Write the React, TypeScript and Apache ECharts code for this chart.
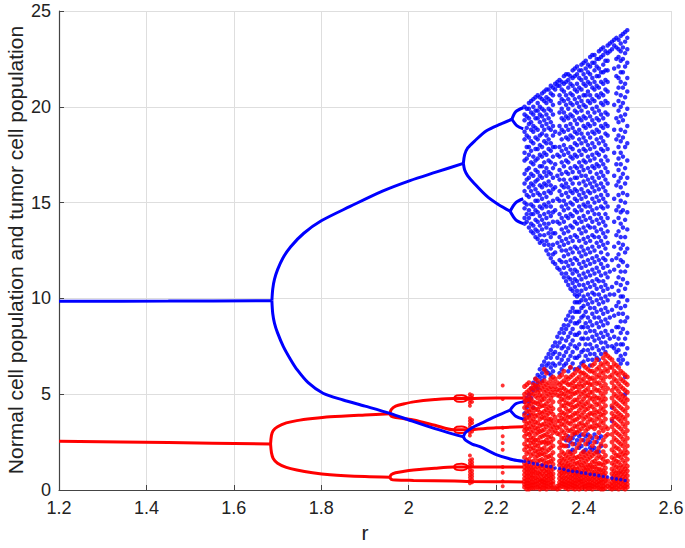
import React, { useEffect, useRef } from "react";
import * as echarts from "echarts";

// ---- Axis ticks and titles ----
const xTicks = { min: 1.2, max: 2.6, step: 0.2 };
const yTicks = { min: 0, max: 25, step: 5 };
const xTitle = "r";
const yTitle = "Normal cell population and tumor cell population";

// ---- Stable / periodic branches (r, population) ----
const normalFixed = [[1.2, 9.85], [1.45, 9.86], [1.687, 9.88]];
const normalUpper = [[1.687, 9.88], [1.689, 10.5], [1.693, 11.0], [1.7, 11.5], [1.712, 12.1], [1.73, 12.7], [1.76, 13.4], [1.8, 14.05], [1.866, 14.8], [1.94, 15.6], [2.003, 16.15], [2.064, 16.6], [2.125, 17.05]];
const normalLower = [[1.687, 9.88], [1.689, 9.2], [1.693, 8.7], [1.7, 8.2], [1.713, 7.5], [1.73, 6.8], [1.744, 6.3], [1.77, 5.6], [1.804, 5.05], [1.85, 4.7], [1.9, 4.38], [1.957, 4.0], [2.01, 3.58], [2.06, 3.2], [2.1, 2.93], [2.125, 2.78]];
const normalUU = [[2.125, 17.05], [2.128, 17.5], [2.135, 17.85], [2.15, 18.2], [2.178, 18.75], [2.21, 19.1], [2.236, 19.35]];
const normalUL = [[2.125, 17.05], [2.128, 16.7], [2.135, 16.4], [2.15, 16.0], [2.178, 15.35], [2.205, 14.9], [2.232, 14.55]];
const normalLU = [[2.125, 2.78], [2.13, 3.0], [2.145, 3.25], [2.163, 3.45], [2.2, 3.85], [2.232, 4.17]];
const normalLL = [[2.125, 2.78], [2.13, 2.6], [2.145, 2.4], [2.163, 2.26], [2.2, 1.85], [2.239, 1.58], [2.262, 1.5]];
const normalSplits = [
  [[2.236, 19.35], [2.245, 19.75], [2.262, 19.95]],
  [[2.236, 19.35], [2.248, 19.0], [2.262, 18.85]],
  [[2.232, 14.55], [2.245, 15.0], [2.262, 15.2]],
  [[2.232, 14.55], [2.245, 14.1], [2.262, 13.9]],
  [[2.232, 4.17], [2.245, 4.5], [2.262, 4.6]],
  [[2.232, 4.17], [2.245, 3.85], [2.262, 3.7]],
];

const tumorFixed = [[1.2, 2.55], [1.45, 2.48], [1.684, 2.4]];
const tumorUpper = [[1.684, 2.4], [1.686, 2.85], [1.69, 3.1], [1.7, 3.3], [1.72, 3.5], [1.744, 3.62], [1.78, 3.73], [1.82, 3.82], [1.9, 3.92], [1.957, 3.98]];
const tumorLower = [[1.684, 2.4], [1.686, 1.95], [1.69, 1.65], [1.7, 1.4], [1.72, 1.18], [1.744, 1.04], [1.78, 0.9], [1.82, 0.8], [1.9, 0.7], [1.957, 0.66]];
const tumorUU = [[1.957, 3.98], [1.96, 4.2], [1.97, 4.38], [1.99, 4.5], [2.011, 4.6], [2.06, 4.72], [2.103, 4.78], [2.136, 4.78], [2.2, 4.8], [2.262, 4.8]];
const tumorUL = [[1.957, 3.98], [1.96, 3.85], [1.97, 3.78], [1.99, 3.72], [2.011, 3.65], [2.06, 3.38], [2.103, 3.14], [2.136, 3.15], [2.2, 3.25], [2.262, 3.3]];
const tumorLU = [[1.957, 0.66], [1.96, 0.8], [1.97, 0.9], [1.99, 0.98], [2.011, 1.04], [2.06, 1.14], [2.103, 1.2], [2.136, 1.2], [2.262, 1.2]];
const tumorLL = [[1.957, 0.66], [1.96, 0.56], [1.97, 0.52], [2.011, 0.5], [2.105, 0.47], [2.14, 0.45], [2.262, 0.42]];
const tumorLoops = [
  [[2.103, 4.78], [2.11, 4.93], [2.121, 4.95], [2.13, 4.9], [2.136, 4.78], [2.13, 4.65], [2.121, 4.6], [2.11, 4.62], [2.103, 4.78]],
  [[2.103, 3.14], [2.11, 3.3], [2.121, 3.32], [2.13, 3.27], [2.136, 3.15], [2.13, 3.02], [2.121, 2.97], [2.11, 2.99], [2.103, 3.14]],
  [[2.103, 1.2], [2.11, 1.35], [2.121, 1.37], [2.13, 1.32], [2.136, 1.2], [2.13, 1.08], [2.121, 1.03], [2.11, 1.05], [2.103, 1.2]],
];

// ---- Transient / scattered tumor points before chaos ----
const tumorStreakR = [2.14, 2.145, 2.215];
const tumorStreak = [
  [5.0, 4.85, 4.7, 4.55, 4.4, 3.75, 3.6, 3.45, 3.3, 3.0, 2.85, 1.8, 1.55, 1.4, 1.25, 1.1, 0.95, 0.8, 0.65, 0.5, 0.35],
  [4.95, 4.8, 4.6, 3.65, 3.5, 3.2, 3.05, 1.6, 1.45, 1.3, 1.0, 0.85, 0.7, 0.55, 0.4],
  [5.45, 4.75, 3.25, 2.8, 2.45, 2.1, 1.2, 0.9, 0.45, 0.2],
];

// ---- Chaotic region: two interleaved sets of r columns ----
const chaosR = [2.265, 2.275, 2.285, 2.295, 2.305, 2.315, 2.325, 2.335, 2.345, 2.355, 2.365, 2.375, 2.385, 2.395, 2.405, 2.415, 2.425, 2.435, 2.445, 2.455, 2.465, 2.475, 2.485, 2.495];
const chaosR2 = [2.27, 2.28, 2.29, 2.3, 2.31, 2.32, 2.33, 2.34, 2.35, 2.36, 2.37, 2.38, 2.39, 2.4, 2.41, 2.42, 2.43, 2.44, 2.45, 2.46, 2.47, 2.48, 2.49, 2.5];

const normalChaos = [
  [20.0, 19.6, 19.3, 18.7, 18.3, 17.6, 17.2, 16.5, 16.0, 15.6, 15.0, 14.7, 14.2, 13.9, 4.6, 4.0, 3.7],
  [20.2, 19.9, 19.4, 19.1, 18.4, 17.9, 17.5, 16.8, 16.3, 15.8, 15.3, 14.6, 14.2, 13.7, 5.0, 4.6, 3.9],
  [20.4, 20.0, 19.6, 19.0, 18.7, 18.1, 17.4, 17.0, 16.4, 15.9, 15.4, 14.8, 14.4, 13.8, 13.4, 5.6, 5.2, 4.3],
  [20.6, 20.2, 19.8, 19.4, 18.8, 18.3, 17.8, 17.3, 16.6, 16.2, 15.5, 15.1, 14.5, 14.0, 13.5, 13.1, 6.0, 5.6, 5.3],
  [20.7, 20.4, 19.9, 19.5, 19.0, 18.6, 17.9, 17.4, 16.9, 16.3, 15.8, 15.2, 14.7, 14.1, 13.6, 13.0, 6.5, 6.1, 5.7],
  [20.9, 20.5, 20.2, 19.6, 19.1, 18.5, 18.1, 17.5, 16.8, 16.4, 15.9, 15.3, 14.8, 14.2, 13.7, 13.0, 12.5, 6.9, 6.5, 6.2],
  [21.1, 20.7, 20.3, 19.8, 19.2, 18.8, 18.1, 17.7, 17.1, 16.5, 15.9, 15.5, 14.8, 14.3, 13.6, 13.2, 12.6, 12.1, 7.3, 6.9, 6.4, 6.0],
  [21.2, 20.9, 18.7, 17.9, 17.0, 15.8, 14.6, 13.4, 12.4, 11.8, 7.7, 7.2, 6.5],
  [21.4, 21.1, 20.6, 20.2, 19.7, 19.0, 18.6, 17.9, 17.4, 16.7, 16.2, 15.6, 15.1, 14.4, 13.9, 13.2, 12.7, 12.0, 11.5, 8.2, 7.7, 7.1, 6.6, 6.1],
  [21.6, 21.2, 20.8, 20.3, 19.7, 19.3, 18.7, 18.0, 17.5, 16.9, 16.2, 15.8, 15.1, 14.6, 14.0, 13.4, 12.8, 12.2, 11.6, 11.1, 8.6, 8.2, 7.5, 7.0, 6.5],
  [21.7, 21.4, 21.0, 20.4, 19.9, 19.4, 18.8, 18.3, 17.6, 17.1, 16.5, 15.8, 15.3, 14.7, 14.2, 13.5, 12.9, 12.3, 11.7, 11.1, 10.7, 9.1, 8.6, 8.0, 7.4, 6.8, 6.2, 2.8, 2.3],
  [21.9, 21.5, 21.1, 20.6, 20.1, 19.5, 18.9, 18.4, 17.8, 17.3, 16.6, 16.0, 15.5, 14.9, 14.3, 13.7, 13.0, 12.4, 11.8, 11.3, 10.8, 10.4, 9.5, 9.0, 8.4, 7.8, 7.2, 6.6, 2.7, 2.1],
  [22.1, 21.7, 21.2, 20.8, 20.2, 19.7, 19.1, 18.6, 18.0, 17.4, 16.8, 16.3, 15.6, 15.1, 14.5, 13.9, 13.2, 12.6, 12.0, 11.4, 10.9, 10.4, 10.1, 9.8, 9.3, 8.7, 8.1, 7.4, 6.9, 2.6],
  [22.2, 21.9, 21.4, 20.9, 20.3, 19.8, 19.3, 18.6, 18.1, 17.5, 16.9, 16.4, 15.7, 15.2, 14.6, 14.0, 13.4, 12.7, 12.2, 11.6, 11.0, 10.4, 9.9, 9.5, 9.0, 8.5, 7.9, 7.2, 6.6, 2.9, 2.3],
  [22.4, 22.0, 21.5, 21.1, 20.6, 20.0, 19.4, 18.9, 18.2, 17.7, 17.1, 16.4, 15.9, 15.3, 14.8, 14.1, 13.5, 12.9, 12.3, 11.7, 11.1, 10.5, 9.9, 9.3, 8.7, 8.2, 7.6, 7.0, 2.8, 2.1],
  [22.6, 22.1, 21.7, 21.2, 20.6, 20.2, 19.5, 19.0, 18.4, 17.8, 17.2, 16.6, 16.0, 15.5, 14.8, 14.2, 13.7, 13.0, 12.4, 11.8, 11.2, 10.6, 10.0, 9.5, 8.8, 8.3, 7.6, 7.1, 6.5, 2.5, 2.2],
  [22.7, 22.3, 21.9, 21.3, 20.9, 20.3, 19.7, 19.1, 18.6, 17.9, 17.3, 16.8, 16.1, 15.6, 15.0, 14.4, 13.7, 13.2, 12.5, 11.9, 11.3, 10.7, 10.2, 9.5, 9.0, 8.3, 7.8, 7.1, 2.9, 2.2],
  [22.9, 22.5, 22.0, 21.6, 21.0, 20.5, 19.8, 19.3, 18.7, 18.1, 17.5, 16.9, 16.3, 15.7, 15.1, 14.4, 13.9, 13.2, 12.7, 12.0, 11.4, 10.9, 10.2, 9.7, 9.0, 8.5, 7.9, 7.3, 6.8, 2.7, 2.0],
  [23.1, 22.7, 22.2, 21.8, 21.2, 20.6, 20.1, 19.4, 18.9, 18.2, 17.7, 17.0, 16.4, 15.8, 15.2, 14.7, 14.0, 13.4, 12.8, 12.1, 11.6, 10.9, 10.4, 9.8, 9.2, 8.6, 8.0, 7.4],
  [23.2, 22.8, 22.4, 21.9, 21.3, 20.8, 20.2, 19.6, 19.0, 18.5, 17.8, 17.2, 16.6, 16.0, 15.4, 14.8, 14.2, 13.5, 12.9, 12.3, 11.7, 11.1, 10.5, 9.9, 9.3, 8.7, 8.1, 7.5],
  [23.4, 23.0, 12.0, 10.6, 9.4, 8.3, 7.5, 4.3, 3.6],
  [23.6, 23.1, 22.5, 21.6, 20.7, 19.4, 18.3, 17.0, 15.9, 14.6, 13.3, 12.1, 10.8, 9.6, 8.5, 7.6, 7.2],
  [23.7, 23.3, 22.9, 22.4, 21.8, 21.3, 20.6, 20.0, 19.5, 18.8, 18.2, 17.6, 17.0, 16.3, 15.8, 15.1, 14.5, 13.9, 13.2, 12.6, 12.0, 11.4, 10.7, 10.1, 9.5, 8.8, 8.2, 7.6, 7.0, 6.6],
  [23.9, 23.4, 22.8, 22.1, 21.2, 20.5, 19.6, 18.7, 17.9, 16.8, 16.0, 15.0, 14.1, 13.2, 12.4, 11.4, 10.5, 9.6, 8.8, 7.9, 7.1, 5.9, 5.0],
];

const normalChaos2 = [
  [19.9, 19.5, 18.9, 18.5, 17.9, 17.3, 16.7, 16.2, 15.4, 14.9, 14.4, 14.0, 4.8, 4.3],
  [20.3, 19.7, 19.2, 18.8, 18.2, 17.7, 17.1, 16.5, 16.0, 15.6, 14.9, 14.4, 13.9, 13.5, 5.3, 4.8],
  [20.5, 19.8, 19.4, 18.9, 18.4, 17.8, 17.2, 16.7, 16.1, 15.7, 15.1, 14.6, 14.1, 13.6, 13.2, 5.8, 5.4],
  [20.5, 20.0, 19.6, 19.2, 18.5, 18.0, 17.5, 16.9, 16.4, 15.9, 15.4, 14.8, 14.3, 13.8, 13.3, 12.9, 6.3, 5.9],
  [20.8, 20.3, 19.8, 19.3, 18.8, 18.2, 17.6, 17.1, 16.6, 16.0, 15.5, 14.9, 14.4, 13.9, 13.3, 12.8, 6.7, 6.3, 5.9],
  [20.9, 20.4, 19.9, 19.4, 18.9, 18.3, 17.8, 17.2, 16.6, 16.1, 15.6, 15.0, 14.5, 13.9, 13.4, 12.8, 12.3, 7.1, 6.6, 6.1],
  [21.0, 20.6, 20.1, 19.6, 19.0, 18.5, 17.9, 17.4, 16.8, 16.3, 15.7, 15.1, 14.5, 14.0, 13.4, 12.8, 12.3, 11.9, 7.5, 7.1, 6.6, 6.2],
  [21.3, 21.1, 17.5, 16.4, 15.2, 14.0, 12.9, 11.6, 8.0, 7.5, 6.9],
  [21.3, 20.9, 20.4, 19.9, 19.4, 18.8, 18.3, 17.7, 17.1, 16.5, 15.9, 15.4, 14.8, 14.2, 13.6, 13.0, 12.5, 11.9, 11.3, 8.4, 7.9, 7.4, 6.8, 6.3],
  [21.7, 21.3, 20.6, 20.1, 19.5, 19.0, 18.4, 17.8, 17.2, 16.6, 16.0, 15.5, 14.9, 14.3, 13.7, 13.1, 12.5, 11.9, 11.3, 10.9, 8.9, 8.4, 7.8, 7.2, 6.6, 2.6],
  [21.6, 21.2, 20.7, 20.2, 19.6, 19.1, 18.5, 17.9, 17.4, 16.8, 16.2, 15.6, 15.0, 14.4, 13.8, 13.2, 12.6, 12.0, 11.5, 11.0, 10.5, 9.3, 8.8, 8.2, 7.6, 7.0, 6.4, 2.5, 2.0],
  [22.0, 21.6, 20.9, 20.4, 19.8, 19.3, 18.7, 18.1, 17.5, 16.9, 16.3, 15.7, 15.2, 14.6, 14.0, 13.3, 12.7, 12.1, 11.5, 11.0, 10.6, 10.2, 9.8, 9.3, 8.7, 8.1, 7.5, 6.9, 6.3, 2.9, 2.4],
  [21.9, 21.5, 21.0, 20.5, 20.0, 19.4, 18.8, 18.3, 17.7, 17.1, 16.6, 16.0, 15.4, 14.8, 14.2, 13.6, 13.0, 12.4, 11.8, 11.2, 10.7, 10.2, 9.8, 9.3, 8.8, 8.2, 7.6, 7.0, 6.4, 2.8, 2.2],
  [22.3, 21.7, 21.2, 20.6, 20.1, 19.5, 19.0, 18.4, 17.8, 17.2, 16.7, 16.1, 15.5, 14.9, 14.3, 13.7, 13.1, 12.5, 11.9, 11.3, 10.7, 10.1, 9.6, 9.1, 8.5, 7.9, 7.3, 6.7, 2.6, 2.0],
  [22.2, 21.8, 21.3, 20.8, 20.3, 19.7, 19.1, 18.6, 18.0, 17.4, 16.8, 16.2, 15.6, 15.0, 14.5, 13.8, 13.2, 12.6, 12.0, 11.4, 10.8, 10.2, 9.7, 9.0, 8.5, 7.9, 7.3, 6.8, 2.9, 2.4],
  [22.7, 22.3, 21.5, 21.0, 20.4, 19.9, 19.3, 18.7, 18.1, 17.5, 16.9, 16.3, 15.8, 15.2, 14.6, 14.0, 13.3, 12.7, 12.1, 11.5, 10.9, 10.3, 9.8, 9.2, 8.6, 8.0, 7.4, 6.8, 2.7, 2.1],
  [22.5, 22.1, 21.6, 21.1, 20.6, 20.0, 19.4, 18.8, 18.3, 17.6, 17.0, 16.5, 15.9, 15.3, 14.7, 14.1, 13.5, 12.9, 12.2, 11.6, 11.0, 10.5, 9.9, 9.3, 8.7, 8.1, 7.5, 6.9, 2.5, 2.0],
  [23.0, 22.6, 21.8, 21.3, 20.7, 20.2, 19.6, 19.0, 18.4, 17.8, 17.2, 16.6, 16.0, 15.4, 14.8, 14.2, 13.6, 13.0, 12.4, 11.8, 11.2, 10.6, 10.0, 9.4, 8.8, 8.2, 7.7, 7.1, 2.8, 2.3],
  [22.9, 22.4, 21.9, 21.4, 20.9, 20.3, 19.7, 19.1, 18.6, 18.0, 17.4, 16.8, 16.2, 15.6, 15.0, 14.4, 13.8, 13.2, 12.6, 12.0, 11.3, 10.7, 10.1, 9.5, 8.9, 8.3, 7.7, 7.2],
  [23.3, 22.9, 11.4, 10.2, 9.0, 7.9],
  [23.5, 23.2, 22.0, 20.1, 18.8, 17.6, 16.4, 15.2, 14.0, 12.7, 11.5, 10.2, 9.1, 8.0, 7.4],
  [23.5, 23.0, 22.6, 22.1, 21.5, 21.0, 20.3, 19.8, 19.2, 18.5, 17.9, 17.3, 16.7, 16.1, 15.4, 14.8, 14.2, 13.5, 12.9, 12.3, 11.7, 11.1, 10.4, 9.8, 9.2, 8.5, 7.9, 7.3, 6.8],
  [23.8, 23.1, 22.5, 21.8, 21.0, 20.2, 19.3, 18.4, 17.4, 16.5, 15.5, 14.6, 13.7, 12.8, 11.9, 11.0, 10.1, 9.2, 8.4, 7.6, 6.8],
  [24.0, 23.6, 23.0, 22.3, 21.5, 20.8, 19.9, 19.0, 18.1, 17.2, 16.3, 15.4, 14.5, 13.6, 12.6, 11.7, 10.8, 9.9, 9.0, 8.2, 7.4, 6.6],
];

const normalEdge = [1.5, 1.45, 1.38, 1.35, 1.3, 1.24, 1.22, 1.15, 1.12, 1.08, 1.02, 0.98, 0.95, 0.9, 0.88, 0.82, 0.8, 0.75, 0.7, 0.68, 0.62, 0.58, 0.55, 0.5];

const tumorChaos = [
  [5.4, 5.0, 4.8, 4.6, 4.3, 3.9, 3.6, 3.3, 3.1, 2.8, 2.4, 2.1, 1.7, 1.4, 1.2, 1.0, 0.8, 0.6, 0.45, 0.3, 0.15],
  [5.6, 5.2, 4.9, 4.7, 4.4, 4.1, 3.8, 3.5, 3.2, 2.9, 2.6, 2.3, 2.0, 1.6, 1.3, 1.1, 0.9, 0.7, 0.5, 0.35, 0.2, 0.05],
  [5.5, 5.3, 5.0, 4.6, 4.3, 4.0, 3.7, 3.4, 3.1, 2.7, 2.5, 2.2, 1.9, 1.5, 1.2, 1.0, 0.8, 0.6, 0.4, 0.25, 0.1],
  [5.7, 5.4, 5.1, 4.8, 4.5, 4.2, 3.9, 3.5, 3.2, 3.0, 2.6, 2.3, 2.0, 1.8, 1.5, 1.2, 0.9, 0.7, 0.5, 0.3, 0.15],
  [5.6, 5.3, 4.9, 4.7, 4.4, 4.0, 3.8, 3.4, 3.1, 2.8, 2.5, 2.1, 1.9, 1.6, 1.3, 1.1, 0.85, 0.6, 0.45, 0.3, 0.1],
  [6.1, 5.5, 5.2, 4.9, 4.5, 4.2, 3.9, 3.6, 3.3, 2.9, 2.6, 2.4, 2.0, 1.7, 1.4, 1.1, 0.9, 0.7, 0.5, 0.35, 0.2, 0.05],
  [5.8, 5.4, 5.1, 4.8, 4.4, 4.1, 3.7, 3.5, 3.2, 2.8, 2.5, 2.2, 1.8, 1.5, 1.2, 1.0, 0.8, 0.6, 0.4, 0.25, 0.1],
  [5.8, 5.4, 5.1, 3.8, 3.4, 3.1, 0.1],
  [5.9, 5.5, 5.2, 4.9, 4.6, 4.2, 3.9, 3.6, 3.3, 2.9, 2.5, 2.2, 1.8, 1.5, 1.3, 1.0, 0.8, 0.6, 0.4, 0.25, 0.1],
  [6.2, 5.7, 5.3, 5.0, 4.7, 4.4, 4.0, 3.7, 3.4, 3.0, 2.7, 2.3, 1.9, 1.6, 1.3, 1.1, 0.9, 0.65, 0.45, 0.3, 0.15],
  [5.8, 5.5, 5.1, 4.8, 4.5, 4.1, 3.8, 3.5, 3.1, 2.6, 2.0, 1.7, 1.4, 1.2, 0.95, 0.7, 0.5, 0.35, 0.2, 0.05],
  [6.0, 5.6, 5.3, 5.0, 4.6, 4.3, 3.9, 3.6, 3.2, 2.9, 2.4, 1.8, 1.5, 1.2, 1.0, 0.8, 0.6, 0.4, 0.25, 0.1],
  [6.3, 5.8, 5.4, 5.1, 4.7, 4.4, 4.0, 3.7, 3.3, 3.0, 2.2, 1.7, 1.4, 1.1, 0.9, 0.7, 0.5, 0.3, 0.15],
  [6.1, 5.7, 5.4, 5.0, 4.6, 4.3, 3.9, 3.5, 3.2, 2.6, 1.9, 1.6, 1.3, 1.0, 0.8, 0.6, 0.45, 0.3, 0.1],
  [6.4, 6.0, 5.6, 5.2, 4.9, 4.5, 4.2, 3.8, 3.4, 3.1, 2.4, 1.8, 1.5, 1.2, 1.0, 0.75, 0.55, 0.35, 0.2, 0.05],
  [6.2, 5.8, 5.5, 5.1, 4.8, 4.4, 4.0, 3.7, 3.3, 2.8, 2.0, 1.7, 1.3, 1.1, 0.85, 0.6, 0.4, 0.25, 0.1],
  [6.6, 6.1, 5.7, 5.3, 4.9, 4.6, 4.2, 3.9, 3.5, 3.2, 2.5, 1.9, 1.5, 1.2, 0.95, 0.7, 0.5, 0.3, 0.15],
  [6.4, 6.0, 5.6, 5.2, 4.8, 4.5, 4.1, 3.8, 3.4, 3.0, 2.2, 1.8, 1.4, 1.1, 0.9, 0.65, 0.45, 0.3, 0.1],
  [6.9, 6.5, 6.1, 5.7, 5.3, 4.9, 4.6, 4.2, 3.9, 3.5, 3.1, 2.6, 2.0, 1.6, 1.3, 1.0, 0.8, 0.6, 0.4, 0.2, 0.05],
  [7.0, 6.6, 6.2, 5.3, 3.2, 2.9, 1.5, 0.5, 0.2],
  [6.8, 6.4, 6.0, 5.6, 5.2, 4.8, 4.4, 4.0, 3.7, 3.3, 2.9, 2.5, 2.1, 1.7, 1.4, 1.1, 0.85, 0.6, 0.4, 0.2, 0.05],
  [6.5, 6.1, 5.7, 5.3, 4.9, 4.5, 4.1, 3.8, 3.4, 3.0, 2.6, 2.2, 1.8, 1.5, 1.2, 0.9, 0.7, 0.5, 0.3, 0.1],
  [6.2, 5.8, 5.4, 5.0, 4.7, 4.3, 3.9, 3.6, 3.2, 2.8, 2.4, 2.0, 1.7, 1.3, 1.0, 0.8, 0.55, 0.35, 0.15],
  [6.0, 5.6, 5.2, 4.8, 4.5, 4.1, 3.7, 3.3, 2.9, 2.5, 2.1, 1.8, 1.4, 1.1, 0.85, 0.6, 0.4, 0.2, 0.05],
];

const tumorChaos2 = [
  [5.5, 5.1, 4.7, 4.45, 4.1, 3.75, 3.45, 3.2, 2.95, 2.6, 2.25, 1.9, 1.55, 1.3, 1.1, 0.9, 0.7, 0.5, 0.35, 0.2, 0.05],
  [5.3, 5.05, 4.75, 4.5, 4.2, 3.9, 3.6, 3.3, 3.0, 2.75, 2.45, 2.15, 1.8, 1.45, 1.2, 1.0, 0.8, 0.6, 0.4, 0.25, 0.1],
  [5.8, 5.45, 5.2, 4.9, 4.55, 4.2, 3.85, 3.55, 3.25, 2.9, 2.6, 2.35, 2.05, 1.7, 1.35, 1.1, 0.9, 0.65, 0.45, 0.3, 0.1],
  [5.5, 5.2, 4.95, 4.6, 4.35, 4.05, 3.7, 3.35, 3.05, 2.75, 2.45, 2.15, 1.85, 1.55, 1.25, 1.0, 0.8, 0.55, 0.4, 0.2, 0.05],
  [6.3, 5.7, 5.4, 5.1, 4.75, 4.4, 4.1, 3.75, 3.45, 3.15, 2.85, 2.5, 2.2, 1.85, 1.5, 1.25, 1.0, 0.75, 0.55, 0.4, 0.25, 0.1],
  [5.6, 5.3, 5.0, 4.65, 4.3, 4.0, 3.7, 3.4, 3.05, 2.75, 2.45, 2.1, 1.75, 1.45, 1.2, 0.95, 0.75, 0.55, 0.35, 0.15],
  [5.9, 5.6, 5.25, 4.95, 4.6, 4.25, 3.95, 3.6, 3.3, 3.0, 2.65, 2.3, 1.95, 1.6, 1.35, 1.1, 0.85, 0.65, 0.45, 0.3, 0.1],
  [5.6, 5.25, 4.95, 3.6, 3.25, 2.95, 0.2, 0.05],
  [6.0, 5.6, 5.35, 5.05, 4.75, 4.4, 4.05, 3.75, 3.45, 3.1, 2.7, 2.35, 2.0, 1.65, 1.4, 1.15, 0.9, 0.7, 0.5, 0.35, 0.2],
  [5.9, 5.6, 5.2, 4.9, 4.55, 4.25, 3.9, 3.6, 3.25, 2.85, 2.3, 1.8, 1.5, 1.25, 1.0, 0.8, 0.6, 0.4, 0.25, 0.1],
  [6.4, 5.9, 5.5, 5.15, 4.85, 4.45, 4.15, 3.8, 3.45, 3.1, 2.7, 1.9, 1.6, 1.3, 1.05, 0.85, 0.65, 0.45, 0.3, 0.15],
  [6.1, 5.7, 5.4, 5.05, 4.7, 4.35, 4.0, 3.65, 3.35, 3.0, 2.0, 1.65, 1.35, 1.1, 0.9, 0.7, 0.5, 0.35, 0.2, 0.05],
  [6.2, 5.9, 5.55, 5.2, 4.85, 4.5, 4.15, 3.8, 3.45, 3.1, 2.4, 1.75, 1.45, 1.2, 0.95, 0.75, 0.55, 0.4, 0.2, 0.05],
  [6.5, 6.1, 5.8, 5.45, 5.1, 4.75, 4.4, 4.05, 3.7, 3.35, 2.9, 2.0, 1.7, 1.4, 1.15, 0.9, 0.7, 0.5, 0.3, 0.15],
  [6.3, 5.9, 5.6, 5.3, 4.95, 4.6, 4.25, 3.9, 3.55, 3.2, 2.6, 1.9, 1.6, 1.3, 1.05, 0.8, 0.6, 0.4, 0.25, 0.1],
  [6.5, 6.2, 5.85, 5.5, 5.1, 4.75, 4.35, 4.0, 3.65, 3.3, 2.3, 1.8, 1.45, 1.2, 0.95, 0.75, 0.55, 0.35, 0.2, 0.05],
  [6.8, 6.3, 5.9, 5.55, 5.2, 4.8, 4.45, 4.05, 3.7, 3.35, 2.75, 2.0, 1.65, 1.35, 1.1, 0.85, 0.6, 0.4, 0.25, 0.1],
  [6.6, 6.2, 5.85, 5.45, 5.05, 4.7, 4.3, 3.95, 3.6, 3.25, 2.4, 1.7, 1.35, 1.05, 0.8, 0.55, 0.4, 0.2, 0.05],
  [7.1, 6.7, 6.3, 5.9, 5.5, 5.1, 4.75, 4.4, 4.05, 3.7, 3.3, 2.8, 2.3, 1.8, 1.45, 1.15, 0.9, 0.7, 0.5, 0.3, 0.1],
  [6.9, 6.4, 5.9, 0.3, 0.1],
  [6.6, 6.2, 5.8, 5.4, 5.0, 4.6, 4.25, 3.85, 3.5, 3.1, 2.7, 2.3, 1.95, 1.6, 1.3, 1.0, 0.75, 0.5, 0.3, 0.1],
  [6.4, 6.0, 5.55, 5.15, 4.8, 4.4, 4.0, 3.7, 3.3, 2.9, 2.5, 2.15, 1.8, 1.45, 1.15, 0.9, 0.65, 0.45, 0.25, 0.05],
  [6.1, 5.7, 5.3, 4.9, 4.6, 4.2, 3.8, 3.45, 3.05, 2.65, 2.3, 1.9, 1.55, 1.2, 0.95, 0.7, 0.5, 0.3, 0.1],
  [5.9, 5.5, 5.1, 4.7, 4.3, 3.9, 3.5, 3.1, 2.7, 2.3, 1.95, 1.6, 1.25, 1.0, 0.75, 0.5, 0.3, 0.15],
];

const BLUE = "#0000ff";
const RED = "#ff0000";
const FONT = "Liberation Sans, Arial, sans-serif";

function columnsToPoints(rs: number[], cols: number[][]) {
  const pts: number[][] = [];
  rs.forEach((r, i) => cols[i].forEach((v) => pts.push([r, v])));
  return pts;
}

function lineSeries(data: number[][], color: string, z: number, width = 3, smooth = 0.3) {
  return {
    type: "line",
    data,
    smooth,
    showSymbol: false,
    symbol: "none",
    silent: true,
    z,
    lineStyle: { color, width },
  };
}

function scatterSeries(data: number[][], color: string, z: number, size = 4) {
  return {
    type: "scatter",
    data,
    symbol: "circle",
    symbolSize: size,
    silent: true,
    z,
    itemStyle: { color },
  };
}

export default function App() {
  const ref = useRef<HTMLDivElement>(null);
  useEffect(() => {
    if (!ref.current) return;
    const chart = echarts.init(ref.current, undefined, { renderer: "svg" });
    const normalLines = [normalFixed, normalUpper, normalLower, normalUU, normalUL, normalLU, normalLL, ...normalSplits];
    const tumorLines = [tumorFixed, tumorUpper, tumorLower, tumorUU, tumorUL, tumorLU, tumorLL];
    const series: any[] = [
      scatterSeries(columnsToPoints(chaosR, normalChaos), BLUE, 2, 4.5),
      scatterSeries(columnsToPoints(chaosR2, normalChaos2), BLUE, 2, 4.5),
      scatterSeries(columnsToPoints(chaosR, tumorChaos), RED, 3, 5),
      scatterSeries(columnsToPoints(chaosR2, tumorChaos2), RED, 3, 5),
      scatterSeries(columnsToPoints(tumorStreakR, tumorStreak), RED, 3, 4),
      ...tumorLines.map((d) => lineSeries(d, RED, 4)),
      ...tumorLoops.map((d) => lineSeries(d, RED, 4, 2, 0.5)),
      ...normalLines.map((d) => lineSeries(d, BLUE, 5)),
      scatterSeries(chaosR.map((r, i) => [r, normalEdge[i]]), BLUE, 6, 3.5),
    ];
    chart.setOption({
      animation: false,
      backgroundColor: "#ffffff",
      grid: { left: 59, right: 14, top: 11, bottom: 58, containLabel: false, outerBoundsMode: "none" },
      graphic: [
        {
          type: "text",
          x: 15,
          y: 250,
          rotation: Math.PI / 2,
          style: {
            text: yTitle,
            fontSize: 21,
            fontFamily: FONT,
            fill: "#222",
            align: "center",
            verticalAlign: "middle",
          },
        },
      ],
      xAxis: {
        type: "value",
        min: xTicks.min,
        max: xTicks.max,
        interval: xTicks.step,
        name: xTitle,
        nameLocation: "middle",
        nameGap: 31,
        nameTextStyle: { fontSize: 21, color: "#222", fontFamily: FONT },
        axisLine: { show: true, lineStyle: { color: "#444", width: 1.2 } },
        axisTick: { show: true, inside: true, length: 5, lineStyle: { color: "#444" } },
        axisLabel: { fontSize: 18, color: "#222", fontFamily: FONT, margin: 9 },
        splitLine: { show: true, lineStyle: { color: "#dedede", width: 1 } },
      },
      yAxis: {
        type: "value",
        min: yTicks.min,
        max: yTicks.max,
        interval: yTicks.step,
        axisLine: { show: true, lineStyle: { color: "#444", width: 1.2 } },
        axisTick: { show: true, inside: true, length: 5, lineStyle: { color: "#444" } },
        axisLabel: { fontSize: 18, color: "#222", fontFamily: FONT, margin: 8 },
        splitLine: { show: true, lineStyle: { color: "#dedede", width: 1 } },
      },
      series,
    });
    return () => chart.dispose();
  }, []);
  return <div ref={ref} style={{ position: "absolute", left: 0, top: 0, width: 685, height: 548 }} />;
}
